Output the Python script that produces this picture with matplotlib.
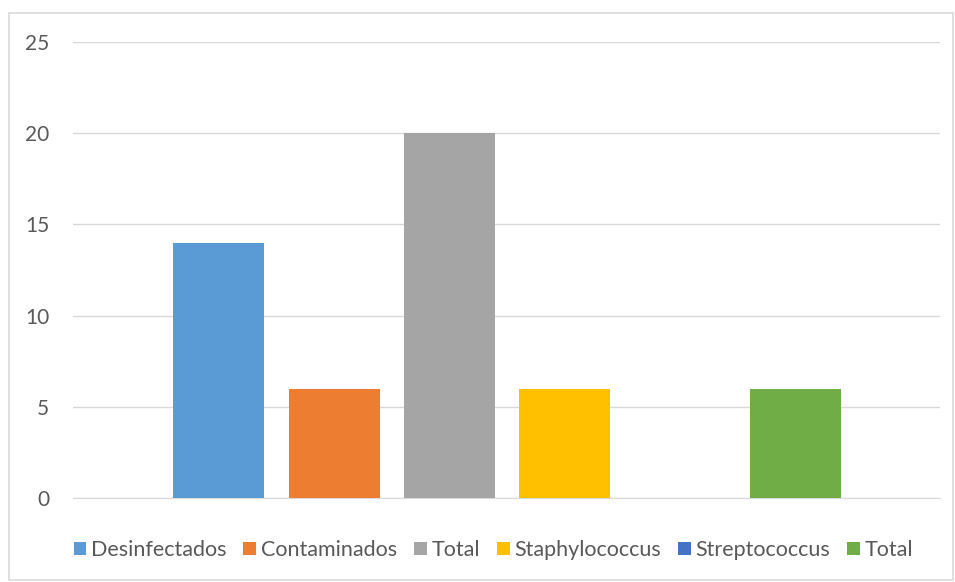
import matplotlib.pyplot as plt
from matplotlib.patches import Rectangle

series = ['Desinfectados', 'Contaminados', 'Total', 'Staphylococcus', 'Streptococcus', 'Total']
values = [14, 6, 20, 6, 0, 6]
colors = ['#5B9BD5', '#ED7D31', '#A5A5A5', '#FFC000', '#4472C4', '#70AD47']
yticks = [0, 5, 10, 15, 20, 25]

plt.rcParams['font.family'] = ['Lato', 'DejaVu Sans']

fig = plt.figure(figsize=(9.55, 5.82), dpi=100)
ax = fig.add_axes([0.0764, 0.1443, 0.9076, 0.7835])

# one bar per series, all in a single category
for i, (name, val, col) in enumerate(zip(series, values, colors)):
    ax.bar(i, val, width=0.788, color=col, label=name, zorder=3)

ax.set_xlim(-1.264, 6.251)
ax.set_ylim(0, 25)
ax.set_yticks(yticks)
ax.set_xticks([])
ax.grid(axis='y', color='#d9d9d9', linewidth=1, zorder=0)
for s in ['top', 'right', 'left']:
    ax.spines[s].set_visible(False)
ax.spines['bottom'].set_color('#d9d9d9')
ax.tick_params(axis='y', length=0, pad=17, labelsize=15, labelcolor='#595959')

leg = ax.legend(loc='center', bbox_to_anchor=(0.485, -0.114), ncol=6, frameon=False,
                fontsize=15.5, handlelength=0.6, handleheight=0.6,
                handletextpad=0.2, columnspacing=0.8)
for t in leg.get_texts():
    t.set_color('#595959')

# outer chart border
fig.patches.append(Rectangle((9 / 955, 2 / 582), 944 / 955, 567 / 582,
                             transform=fig.transFigure, fill=False,
                             edgecolor='#d9d9d9', linewidth=1.2))

fig.savefig('out.png', dpi=100)
